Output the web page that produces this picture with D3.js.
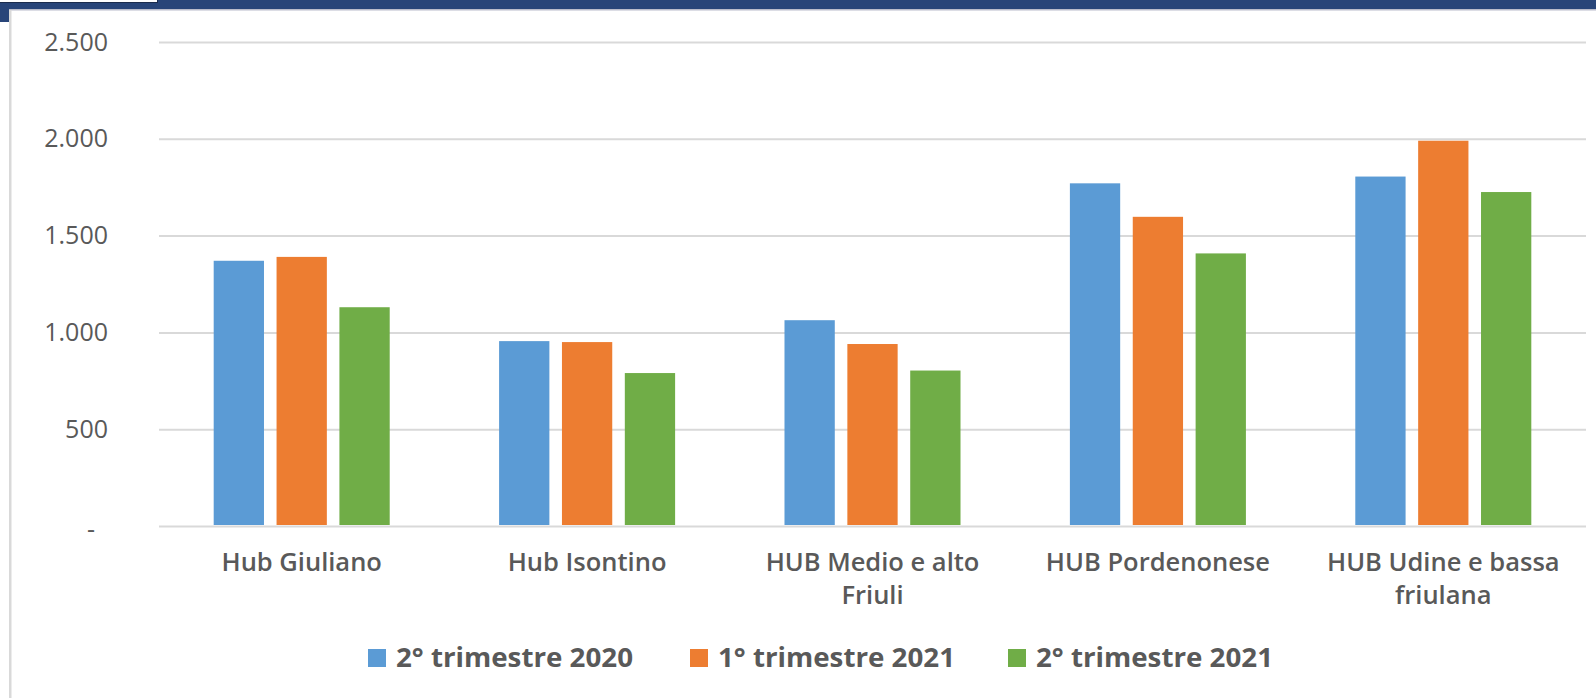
<!DOCTYPE html>
<html>
<head>
<meta charset="utf-8">
<script src="https://cdn.jsdelivr.net/npm/d3@7"></script>
<style>
  html, body { margin: 0; padding: 0; background: #ffffff; }
  svg { display: block; }
  text { font-family: "Open Sans", "Noto Sans", sans-serif; fill: #595959; }
</style>
</head>
<body>
<svg id="chart" width="1596" height="698"></svg>
<script>
// ---- data ----
const categories = ["Hub Giuliano", "Hub Isontino", "HUB Medio e alto Friuli", "HUB Pordenonese", "HUB Udine e bassa friulana"];
const seriesNames = ["2° trimestre 2020", "1° trimestre 2021", "2° trimestre 2021"];
const q2_2020 = [1370, 955, 1063, 1770, 1805];
const q1_2021 = [1390, 950, 940, 1597, 1990];
const q2_2021 = [1130, 790, 803, 1408, 1725];
const seriesColors = ["#5B9BD5", "#ED7D31", "#70AD47"];
const yTicks = [0, 500, 1000, 1500, 2000, 2500];

const seriesValues = [q2_2020, q1_2021, q2_2021];

const svg = d3.select("#chart");
const W = 1596, H = 698;

// ---- frame decoration ----
svg.append("rect").attr("x", 0).attr("y", 0).attr("width", W).attr("height", H).attr("fill", "#ffffff");
svg.append("rect").attr("x", 0).attr("y", 0).attr("width", W).attr("height", 9).attr("fill", "#284579");
svg.append("rect").attr("x", 0).attr("y", 9).attr("width", 9).attr("height", 13).attr("fill", "#284579");
svg.append("rect").attr("x", 0).attr("y", 0).attr("width", 157).attr("height", 2).attr("fill", "#ffffff");
svg.append("line").attr("x1", 0).attr("x2", 157).attr("y1", 2.5).attr("y2", 2.5).attr("stroke", "#1b2c4e").attr("stroke-width", 1);
svg.append("line").attr("x1", 157.5).attr("x2", 157.5).attr("y1", 0).attr("y2", 3).attr("stroke", "#1b2c4e").attr("stroke-width", 1);
svg.append("rect").attr("x", 9).attr("y", 9).attr("width", W - 9).attr("height", 1.5).attr("fill", "#b9bccb");
svg.append("rect").attr("x", 9).attr("y", 10).attr("width", 2.5).attr("height", H - 10).attr("fill", "#d9d9d9");

// ---- scales ----
const plotLeft = 159, plotRight = 1586, plotTop = 42, plotBottom = 526;
const x0 = d3.scaleBand().domain(categories).range([plotLeft, plotRight]).paddingInner(0).paddingOuter(0);
const x1 = d3.scaleBand().domain(seriesNames).range([0, x0.bandwidth()]).paddingInner(0.2).paddingOuter(0.87);
const y = d3.scaleLinear().domain([0, 2500]).range([plotBottom, plotTop]);

// ---- gridlines ----
const grid = svg.append("g").attr("transform", `translate(${plotLeft},0)`)
  .call(d3.axisLeft(y).tickValues(yTicks).tickSize(-(plotRight - plotLeft)).tickFormat(""));
grid.select(".domain").remove();
grid.selectAll(".tick line").attr("stroke", "#d9d9d9").attr("stroke-width", 2);

// ---- y axis labels ----
const fmt = v => v === 0 ? "-" : d3.format(",")(v).replace(/,/g, ".");
const yAxis = svg.append("g").attr("transform", `translate(${plotLeft},0)`)
  .call(d3.axisLeft(y).tickValues(yTicks).tickSize(0).tickPadding(51).tickFormat(fmt));
yAxis.select(".domain").remove();
yAxis.selectAll(".tick text")
  .style("font-size", "25px")
  .style("font-family", "'Open Sans', sans-serif")
  .attr("fill", "#595959")
  .filter(d => d === 0).attr("dx", -13).attr("dy", "0.45em");

// ---- bars ----
const groups = svg.append("g").selectAll("g")
  .data(categories)
  .join("g")
  .attr("transform", d => `translate(${x0(d)},0)`);

groups.selectAll("rect")
  .data((c, i) => seriesNames.map((s, j) => ({ s, j, v: seriesValues[j][i] })))
  .join("rect")
  .attr("x", d => x1(d.s))
  .attr("width", x1.bandwidth())
  .attr("y", d => y(d.v))
  .attr("height", d => y(0) - y(d.v) - 1)
  .attr("fill", d => seriesColors[d.j]);

// ---- category labels (wrapped) ----
const xAxis = svg.append("g").attr("transform", `translate(0,${plotBottom})`)
  .call(d3.axisBottom(x0).tickSize(0).tickPadding(0));
xAxis.select(".domain").remove();
xAxis.selectAll(".tick text").each(function(d) {
  const t = d3.select(this);
  t.text(null).attr("y", 0).attr("dy", null)
    .style("font-size", "25.5px").style("font-weight", "600")
    .style("font-family", "'Open Sans', sans-serif").attr("fill", "#595959");
  const words = d.split(" ");
  let lines = [], cur = [];
  const probe = t.append("tspan");
  for (const w of words) {
    const test = cur.concat([w]).join(" ");
    probe.text(test);
    if (probe.node().getComputedTextLength() > 268 && cur.length) {
      lines.push(cur.join(" "));
      cur = [w];
    } else cur.push(w);
  }
  lines.push(cur.join(" "));
  probe.remove();
  lines.forEach((ln, k) => {
    t.append("tspan").attr("x", 0).attr("y", 45 + k * 32.5).text(ln);
  });
});

// ---- legend ----
const legend = svg.append("g");
const legendX = [368, 690, 1008];
seriesNames.forEach((s, j) => {
  const g = legend.append("g").attr("transform", `translate(${legendX[j]},0)`);
  g.append("rect").attr("x", 0).attr("y", 649).attr("width", 18).attr("height", 18).attr("fill", seriesColors[j]);
  g.append("text").attr("x", 28).attr("y", 667)
    .style("font-size", "26px").style("font-weight", "700")
    .style("font-family", "'Open Sans', sans-serif")
    .attr("fill", "#595959")
    .attr("textLength", 237).attr("lengthAdjust", "spacingAndGlyphs")
    .text(s);
});
</script>
</body>
</html>
